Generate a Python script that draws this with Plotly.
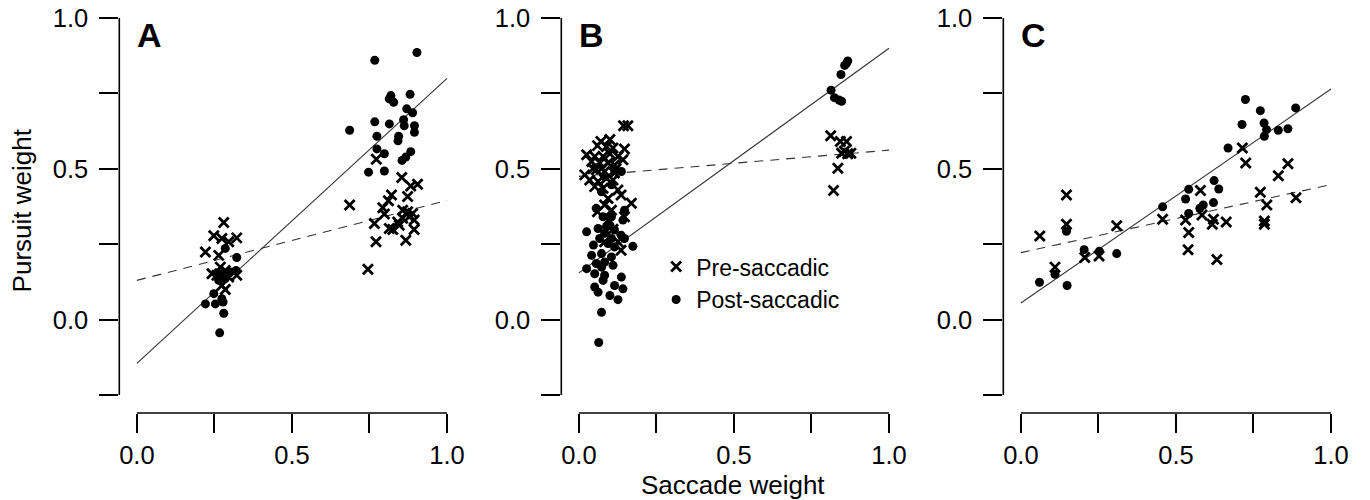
import plotly.graph_objects as go

# ---------------- data ----------------
# Panel A
pre_x_A = [0.280, 0.248, 0.274, 0.322, 0.296, 0.221, 0.264, 0.269, 0.242, 0.285, 0.258, 0.296, 0.322, 0.285, 0.274,
           0.772, 0.854, 0.883, 0.905, 0.821, 0.873, 0.811, 0.686, 0.793, 0.798, 0.857, 0.873, 0.889, 0.878, 0.857,
           0.894, 0.766, 0.841, 0.846, 0.814, 0.825, 0.894, 0.771, 0.867, 0.745]
pre_y_A = [0.322, 0.278, 0.269, 0.271, 0.258, 0.224, 0.213, 0.174, 0.152, 0.163, 0.147, 0.141, 0.147, 0.100, 0.113,
           0.532, 0.471, 0.443, 0.449, 0.413, 0.408, 0.394, 0.380, 0.371, 0.350, 0.363, 0.358, 0.352, 0.341, 0.336,
           0.330, 0.319, 0.324, 0.313, 0.302, 0.299, 0.299, 0.258, 0.263, 0.167]
post_x_A = [0.285, 0.322, 0.320, 0.269, 0.264, 0.248, 0.274, 0.221, 0.253, 0.278, 0.280, 0.267, 0.285, 0.301,
            0.903, 0.767, 0.819, 0.828, 0.881, 0.814, 0.870, 0.889, 0.767, 0.814, 0.860, 0.862, 0.895, 0.895,
            0.686, 0.774, 0.844, 0.842, 0.774, 0.798, 0.883, 0.867, 0.855, 0.747, 0.798]
post_y_A = [0.236, 0.206, 0.163, 0.152, 0.130, 0.086, 0.069, 0.052, 0.052, 0.058, 0.021, -0.044, 0.136, 0.158,
            0.886, 0.860, 0.743, 0.721, 0.747, 0.732, 0.699, 0.686, 0.656, 0.649, 0.663, 0.643, 0.643, 0.621,
            0.628, 0.608, 0.608, 0.593, 0.566, 0.550, 0.557, 0.539, 0.528, 0.489, 0.493]

# Panel B
pre_x_B = [0.144, 0.158, 0.071, 0.100, 0.060, 0.089, 0.110, 0.147, 0.025, 0.051, 0.078, 0.126, 0.142, 0.041,
           0.068, 0.094, 0.115, 0.019, 0.056, 0.083, 0.115, 0.035, 0.062, 0.089, 0.110, 0.051, 0.078, 0.126,
           0.094, 0.136, 0.083, 0.169, 0.105, 0.147, 0.060, 0.083, 0.126, 0.136, 0.100, 0.073, 0.120, 0.045,
           0.095, 0.110,
           0.812, 0.843, 0.863, 0.847, 0.867, 0.877, 0.856, 0.835, 0.821]
pre_y_B = [0.643, 0.643, 0.591, 0.597, 0.577, 0.574, 0.569, 0.566, 0.547, 0.541, 0.541, 0.541, 0.530, 0.524,
           0.519, 0.519, 0.513, 0.480, 0.497, 0.491, 0.486, 0.463, 0.458, 0.469, 0.463, 0.441, 0.436, 0.430,
           0.402, 0.413, 0.380, 0.386, 0.363, 0.341, 0.358, 0.258, 0.258, 0.230, 0.550, 0.500, 0.500, 0.500,
           0.330, 0.300,
           0.610, 0.591, 0.591, 0.552, 0.550, 0.552, 0.558, 0.502, 0.428]
post_x_B = [0.137, 0.147, 0.142, 0.056, 0.078, 0.105, 0.025, 0.062, 0.100, 0.115, 0.083, 0.136, 0.067, 0.105,
            0.147, 0.094, 0.115, 0.174, 0.041, 0.073, 0.105, 0.083, 0.056, 0.025, 0.073, 0.110, 0.051, 0.083,
            0.137, 0.078, 0.051, 0.062, 0.115, 0.142, 0.100, 0.126, 0.073, 0.064, 0.089, 0.047, 0.083, 0.105,
            0.073, 0.115,
            0.867, 0.863, 0.857, 0.845, 0.813, 0.824, 0.839, 0.847]
post_y_B = [0.491, 0.363, 0.330, 0.369, 0.341, 0.341, 0.291, 0.302, 0.313, 0.297, 0.286, 0.280, 0.269, 0.269,
            0.269, 0.252, 0.241, 0.243, 0.213, 0.219, 0.208, 0.191, 0.186, 0.169, 0.174, 0.180, 0.152, 0.147,
            0.141, 0.130, 0.108, 0.091, 0.113, 0.102, 0.080, 0.066, 0.024, -0.076, 0.308, 0.247, 0.474, 0.447,
            0.424, 0.497,
            0.858, 0.850, 0.843, 0.813, 0.761, 0.736, 0.728, 0.724]

# Panel C
pre_x_C = [0.714, 0.725, 0.861, 0.830, 0.579, 0.772, 0.887, 0.793, 0.147, 0.147, 0.061, 0.309, 0.457, 0.531,
           0.584, 0.621, 0.617, 0.662, 0.785, 0.785, 0.541, 0.539, 0.632, 0.206, 0.252, 0.110]
pre_y_C = [0.569, 0.519, 0.517, 0.477, 0.428, 0.422, 0.404, 0.380, 0.413, 0.316, 0.277, 0.311, 0.333, 0.330,
           0.347, 0.333, 0.316, 0.324, 0.327, 0.316, 0.289, 0.232, 0.199, 0.206, 0.211, 0.174]
post_x_C = [0.724, 0.772, 0.886, 0.713, 0.784, 0.792, 0.830, 0.861, 0.785, 0.668, 0.623, 0.638, 0.541, 0.531,
            0.621, 0.588, 0.577, 0.457, 0.541, 0.147, 0.204, 0.253, 0.309, 0.110, 0.060, 0.149]
post_y_C = [0.730, 0.693, 0.702, 0.647, 0.652, 0.630, 0.628, 0.633, 0.608, 0.569, 0.461, 0.433, 0.432, 0.400,
            0.388, 0.380, 0.369, 0.374, 0.352, 0.293, 0.232, 0.227, 0.219, 0.150, 0.124, 0.113]

# regression fits: (intercept, slope)
fit_post = {"A": (-0.145, 0.945), "B": (0.155, 0.745), "C": (0.055, 0.710)}
fit_pre = {"A": (0.130, 0.265), "B": (0.475, 0.087), "C": (0.222, 0.226)}
fit_x = [0.0, 1.0]

panel_labels = ["A", "B", "C"]
x_tickvals = [0.0, 0.25, 0.5, 0.75, 1.0]
x_ticktext = ["0.0", "", "0.5", "", "1.0"]
y_tickvals = [-0.25, 0.0, 0.25, 0.5, 0.75, 1.0]
y_ticktext = ["", "0.0", "", "0.5", "", "1.0"]

# ---------------- figure ----------------
W, H = 1370, 500
FONT = "Liberation Sans, Arial, Helvetica, sans-serif"
TICK_FS = 25.5
panels = {
    "A": (pre_x_A, pre_y_A, post_x_A, post_y_A),
    "B": (pre_x_B, pre_y_B, post_x_B, post_y_B),
    "C": (pre_x_C, pre_y_C, post_x_C, post_y_C),
}
left_px = [120, 564.6, 1009.2]
plot_w = 339
x_range = [-0.0567, 1.03]
y_range = [-0.31, 1.027]
y_dom = [(H - 412) / H, (H - 4) / H]

fig = go.Figure()
layout = dict(
    width=W, height=H,
    margin=dict(l=0, r=0, t=0, b=0),
    paper_bgcolor="white", plot_bgcolor="white",
    font=dict(family=FONT, size=TICK_FS, color="black"),
    showlegend=True,
    legend=dict(x=660 / W, y=(H - 242) / H, xanchor="left", yanchor="top",
                bgcolor="rgba(0,0,0,0)", font=dict(size=23), tracegroupgap=0,
                itemwidth=30),
)
shapes = []
annotations = []

for i, key in enumerate(panel_labels):
    sfx = "" if i == 0 else str(i + 1)
    xa, ya = "x" + sfx, "y" + sfx
    px, py, qx, qy = panels[key]
    ax_common = dict(showgrid=False, zeroline=False, showline=False,
                     ticks="outside", ticklen=19, tickwidth=1.6, tickcolor="black",
                     ticklabeloverflow="allow",
                     tickfont=dict(size=TICK_FS, family=FONT, color="black"))
    layout["xaxis" + sfx] = dict(domain=[left_px[i] / W, (left_px[i] + plot_w) / W],
                                 range=x_range, anchor=ya, tickvals=x_tickvals,
                                 ticktext=x_ticktext, **ax_common)
    layout["yaxis" + sfx] = dict(domain=y_dom, range=y_range, anchor=xa,
                                 tickvals=y_tickvals, ticktext=y_ticktext,
                                 ticklabelstandoff=6, **ax_common)

    # fit lines
    b0, b1 = fit_pre[key]
    fig.add_trace(go.Scatter(x=fit_x, y=[b0 + b1 * v for v in fit_x], mode="lines",
                             line=dict(color="#333", width=1.1, dash="9px,7px"),
                             xaxis=xa, yaxis=ya, showlegend=False, hoverinfo="skip"))
    b0, b1 = fit_post[key]
    fig.add_trace(go.Scatter(x=fit_x, y=[b0 + b1 * v for v in fit_x], mode="lines",
                             line=dict(color="#333", width=1.1),
                             xaxis=xa, yaxis=ya, showlegend=False, hoverinfo="skip"))
    # points
    fig.add_trace(go.Scatter(x=px, y=py, mode="markers", name="Pre-saccadic",
                             marker=dict(symbol="x-thin", size=10, color="black",
                                         line=dict(color="black", width=2.8)),
                             xaxis=xa, yaxis=ya, showlegend=(key == "B")))
    fig.add_trace(go.Scatter(x=qx, y=qy, mode="markers", name="Post-saccadic",
                             marker=dict(symbol="circle", size=9, color="black",
                                         line=dict(width=0)),
                             xaxis=xa, yaxis=ya, showlegend=(key == "B")))

    # axis lines spanning only the tick range
    shapes.append(dict(type="line", xref=xa, yref=ya + " domain",
                       x0=x_tickvals[0], x1=x_tickvals[-1], y0=0, y1=0,
                       line=dict(color="black", width=1.6)))
    shapes.append(dict(type="line", xref=xa + " domain", yref=ya,
                       x0=0, x1=0, y0=y_tickvals[0], y1=y_tickvals[-1],
                       line=dict(color="black", width=1.6)))
    annotations.append(dict(text="<b>%s</b>" % key, xref=xa, yref=ya, x=-0.005, y=0.943,
                            xanchor="left", yanchor="middle", showarrow=False,
                            font=dict(size=34, family=FONT, color="black")))

annotations.append(dict(text="Pursuit weight", xref="paper", yref="paper",
                        x=22 / W, y=(H - 207) / H, textangle=-90, showarrow=False,
                        xanchor="center", yanchor="middle", font=dict(size=26, family=FONT)))
annotations.append(dict(text="Saccade weight", xref="paper", yref="paper",
                        x=737 / W, y=(H - 485) / H, showarrow=False,
                        xanchor="center", yanchor="middle", font=dict(size=26, family=FONT)))

layout["shapes"] = shapes
layout["annotations"] = annotations
fig.update_layout(**layout)
fig.write_html("out.html", config={"displayModeBar": False},
               post_script="document.body.style.margin='0px';document.body.style.overflow='hidden';")
